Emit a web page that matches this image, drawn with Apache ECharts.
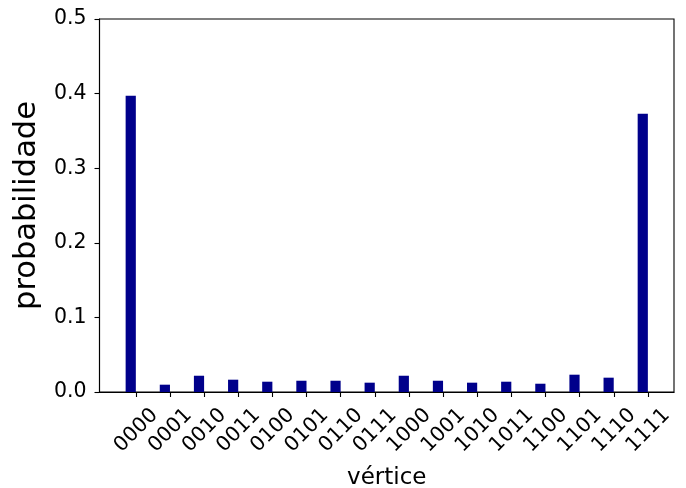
<!DOCTYPE html>
<html>
<head>
<meta charset="utf-8">
<script src="https://cdn.jsdelivr.net/npm/echarts@6/dist/echarts.min.js"></script>
<style>
  html, body { margin: 0; padding: 0; background: #fff; }
  #chart { width: 686px; height: 488px; }
</style>
</head>
<body>
<div id="chart"></div>
<script>
// vértices (estados de 4 bits)
var vertices = ['0000', '0001', '0010', '0011', '0100', '0101', '0110', '0111',
                '1000', '1001', '1010', '1011', '1100', '1101', '1110', '1111'];
// probabilidade
var probabilidade = [0.397, 0.0098, 0.0218, 0.0165, 0.0138, 0.0151, 0.0151, 0.0125,
                     0.0218, 0.0151, 0.0125, 0.0138, 0.0111, 0.0232, 0.0192, 0.373];
var yTicks = [0, 0.1, 0.2, 0.3, 0.4, 0.5];

var font = 'DejaVu Sans';
var labelShift = 0.55;   // deslocamento dos rótulos rodados (em unidades de categoria)

var chart = echarts.init(document.getElementById('chart'));

var barData = [];
for (var i = 0; i < vertices.length; i++) {
    // barra alinhada pela borda direita no tick (largura 0.3)
    barData.push([i - 0.15, probabilidade[i]]);
}
var tickPos = vertices.map(function (v, i) { return i; });

var option = {
    backgroundColor: '#fff',
    animation: false,
    grid: {
        left: 99.5,
        right: 12,
        top: 19,
        bottom: 96,
        show: true,
        borderColor: '#000',
        borderWidth: 1.1,
        containLabel: false,
        outerBoundsMode: 'none'
    },
    xAxis: {
        type: 'value',
        min: -1.065,
        max: 15.765,
        name: 'vértice',
        nameLocation: 'middle',
        nameGap: 75,
        nameTextStyle: { fontFamily: font, fontSize: 23, color: '#000' },
        axisLine: { show: true, onZero: false, lineStyle: { color: '#000', width: 1.1 } },
        axisTick: {
            show: true,
            customValues: tickPos,
            length: 5,
            lineStyle: { color: '#000', width: 1.1 }
        },
        axisLabel: {
            customValues: tickPos.map(function (p) { return p + labelShift; }),
            rotate: 45,
            margin: 20,
            fontFamily: font,
            fontSize: 20.5,
            color: '#000',
            formatter: function (val) {
                return vertices[Math.round(val - labelShift)] || '';
            }
        },
        splitLine: { show: false }
    },
    yAxis: {
        type: 'value',
        min: 0,
        max: 0.5,
        interval: 0.1,
        name: 'probabilidade',
        nameLocation: 'middle',
        nameGap: 53,
        nameTextStyle: { fontFamily: font, fontSize: 30.5, color: '#000' },
        axisLine: { show: true, onZero: false, lineStyle: { color: '#000', width: 1.1 } },
        axisTick: { show: true, length: 5, lineStyle: { color: '#000', width: 1.1 } },
        axisLabel: {
            margin: 13,
            fontFamily: font,
            fontSize: 20.5,
            color: '#000',
            formatter: function (v) { return v.toFixed(1); }
        },
        splitLine: { show: false }
    },
    series: [{
        name: 'probabilidade',
        type: 'bar',
        barWidth: 10.2,
        itemStyle: { color: '#00008b' },
        data: barData
    }]
};
chart.setOption(option);
</script>
</body>
</html>
